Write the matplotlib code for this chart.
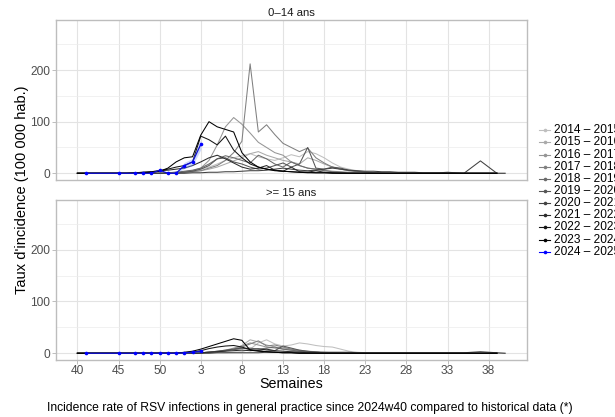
import matplotlib
matplotlib.use('Agg')
import matplotlib.pyplot as plt
from matplotlib.lines import Line2D
import numpy as np

plt.rcParams['font.family'] = ['Liberation Sans', 'DejaVu Sans']

# ---------------- data ----------------
seasons = ['2014 – 2015', '2015 – 2016', '2016 – 2017', '2017 – 2018', '2018 – 2019',
           '2019 – 2020', '2020 – 2021', '2021 – 2022', '2022 – 2023', '2023 – 2024']
current_season = '2024 – 2025'
panels = ['0–14 ans', '>= 15 ans']

# week order of a season (position on the x axis)
week_order = list(range(40, 53)) + list(range(1, 41))
tick_labels = ['40', '45', '50', '3', '8', '13', '18', '23', '28', '33', '38']

# 0-14 ans, historical seasons (one value per week, starting week 40)
kids_2014 = [0, 0, 0, 0, 0, 0, 0, 0, 0, 0,
             0, 1, 2, 3, 5, 8, 12, 18, 25, 30,
             34, 38, 32, 28, 25, 30, 36, 32, 42, 38,
             30, 20, 12, 8, 5, 3, 2, 1, 1, 0,
             0, 0, 0, 0, 0, 0, 0, 0, 0, 0, 0, 0]
kids_2015 = [0, 0, 0, 0, 0, 0, 0, 0, 0, 0,
             0, 0, 1, 2, 3, 5, 8, 12, 18, 24,
             30, 38, 42, 35, 30, 25, 22, 18, 30, 25,
             18, 12, 8, 5, 4, 3, 2, 1, 0, 0,
             0, 0, 0, 0, 0, 0, 0, 0, 0, 0, 0, 0, 0]
kids_2016 = [0, 0, 0, 0, 0, 0, 0, 0, 0, 0,
             0, 1, 2, 3, 5, 10, 25, 55, 90, 108,
             95, 78, 60, 50, 40, 35, 22, 15, 10, 8,
             6, 4, 3, 2, 1, 1, 0, 0, 0, 0,
             0, 0, 0, 0, 0, 0, 0, 0, 0, 0, 0, 0]
kids_2017 = [0, 0, 0, 0, 0, 0, 0, 0, 0, 0,
             0, 0, 1, 2, 3, 5, 10, 15, 25, 40,
             62, 212, 80, 94, 75, 58, 50, 42, 49, 30,
             20, 12, 8, 5, 3, 2, 1, 1, 0, 0,
             0, 0, 0, 0, 0, 0, 0, 0, 0, 0, 0, 0]
kids_2018 = [0, 0, 0, 0, 0, 0, 0, 0, 0, 0,
             0, 1, 2, 4, 6, 10, 18, 28, 34, 30,
             25, 20, 35, 28, 18, 12, 22, 15, 10, 8,
             5, 3, 2, 1, 1, 0, 0, 0, 0, 0,
             0, 0, 0, 0, 0, 0, 0, 0, 0, 0, 0, 0]
kids_2019 = [0, 0, 0, 0, 0, 0, 0, 0, 0, 0,
             0, 0, 1, 2, 4, 8, 15, 28, 30, 22,
             18, 12, 8, 10, 15, 20, 12, 18, 50, 10,
             8, 12, 10, 6, 4, 2, 1, 0, 0, 0,
             0, 0, 0, 0, 0, 0, 0, 0, 0, 0, 0, 0]
kids_2020 = [0, 0, 0, 0, 0, 0, 0, 0, 0, 0,
             0, 0, 0, 0, 1, 1, 2, 2, 3, 3,
             4, 5, 5, 6, 8, 10, 8, 6, 5, 6,
             8, 10, 8, 6, 5, 4, 4, 3, 3, 2,
             2, 2, 1, 1, 1, 2, 1, 0, 12, 24, 12, 0, 0]
kids_2021 = [0, 0, 0, 0, 0, 0, 0, 1, 2, 3,
             5, 6, 8, 10, 15, 22, 30, 35, 28, 20,
             12, 8, 10, 15, 6, 4, 12, 3, 2, 5,
             2, 1, 1, 0, 0, 0, 0, 0, 0, 0,
             0, 0, 0, 0, 0, 0, 0, 0, 0, 0, 0, 0]
kids_2022 = [0, 0, 0, 0, 0, 0, 0, 1, 2, 3,
             5, 8, 12, 15, 22, 72, 65, 55, 72, 45,
             30, 18, 12, 8, 6, 4, 3, 2, 2, 1,
             1, 1, 0, 0, 0, 0, 0, 0, 0, 0,
             0, 0, 0, 0, 0, 0, 0, 0, 0, 0, 0, 0]
kids_2023 = [0, 0, 0, 0, 0, 0, 0, 0, 1, 2,
             4, 10, 22, 30, 32, 74, 100, 90, 85, 80,
             40, 22, 12, 8, 5, 4, 3, 2, 1, 1,
             1, 0, 0, 0, 0, 0, 0, 0, 0, 0,
             0, 0, 0, 0, 0, 0, 0, 0, 0, 0, 0, 0]

# >= 15 ans, historical seasons
adult_2014 = [0, 0, 0, 0, 0, 0, 0, 0, 0, 0,
              0, 0, 0, 0, 0, 0, 1, 1, 1, 2,
              3, 8, 20, 26, 18, 14, 16, 20, 18, 15,
              13, 12, 8, 4, 2, 1, 0, 0, 0, 0,
              0, 0, 0, 0, 0, 0, 0, 0, 0, 0, 0, 0]
adult_2015 = [0, 0, 0, 0, 0, 0, 0, 0, 0, 0,
              0, 0, 0, 0, 0, 1, 2, 3, 5, 8,
              15, 26, 22, 16, 12, 10, 8, 6, 4, 3,
              2, 1, 1, 0, 0, 0, 0, 0, 0, 0,
              0, 0, 0, 0, 0, 0, 0, 0, 0, 0, 0, 0, 0]
adult_2016 = [0, 0, 0, 0, 0, 0, 0, 0, 0, 0,
              0, 0, 0, 0, 0, 1, 2, 4, 6, 10,
              14, 20, 16, 12, 10, 8, 6, 4, 3, 2,
              1, 1, 0, 0, 0, 0, 0, 0, 0, 0,
              0, 0, 0, 0, 0, 0, 0, 0, 0, 0, 0, 0]
adult_2017 = [0, 0, 0, 0, 0, 0, 0, 0, 0, 0,
              0, 0, 0, 0, 0, 1, 2, 3, 5, 8,
              12, 18, 24, 14, 16, 12, 8, 5, 3, 2,
              1, 1, 0, 0, 0, 0, 0, 0, 0, 0,
              0, 0, 0, 0, 0, 0, 0, 0, 0, 0, 0, 0]
adult_2018 = [0, 0, 0, 0, 0, 0, 0, 0, 0, 0,
              0, 0, 0, 0, 0, 1, 2, 3, 5, 7,
              9, 10, 8, 10, 12, 8, 6, 4, 3, 2,
              1, 1, 0, 0, 0, 0, 0, 0, 0, 0,
              0, 0, 0, 0, 0, 0, 0, 0, 0, 0, 0, 0]
adult_2019 = [0, 0, 0, 0, 0, 0, 0, 0, 0, 0,
              0, 0, 0, 0, 0, 1, 2, 4, 6, 8,
              10, 8, 9, 6, 5, 14, 10, 6, 4, 2,
              1, 1, 0, 0, 0, 0, 0, 0, 0, 0,
              0, 0, 0, 0, 0, 0, 0, 0, 0, 0, 0, 0]
adult_2020 = [0, 0, 0, 0, 0, 0, 0, 0, 0, 0,
              0, 0, 0, 0, 0, 0, 0, 1, 1, 1,
              1, 1, 1, 2, 2, 2, 2, 2, 2, 2,
              2, 2, 2, 2, 1, 1, 1, 1, 1, 1,
              1, 1, 1, 1, 1, 1, 1, 1, 2, 3, 2, 1, 0]
adult_2021 = [0, 0, 0, 0, 0, 0, 0, 0, 0, 0,
              0, 0, 0, 0, 0, 1, 2, 3, 4, 5,
              6, 5, 6, 8, 5, 4, 3, 2, 1, 1,
              0, 0, 0, 0, 0, 0, 0, 0, 0, 0,
              0, 0, 0, 0, 0, 0, 0, 0, 0, 0, 0, 0]
adult_2022 = [0, 0, 0, 0, 0, 0, 0, 0, 0, 0,
              0, 0, 0, 1, 2, 5, 9, 12, 14, 15,
              12, 7, 5, 3, 2, 1, 1, 0, 0, 0,
              0, 0, 0, 0, 0, 0, 0, 0, 0, 0,
              0, 0, 0, 0, 0, 0, 0, 0, 0, 0, 0, 0]
adult_2023 = [0, 0, 0, 0, 0, 0, 0, 0, 0, 0,
              0, 0, 0, 2, 4, 8, 13, 18, 23, 28,
              25, 6, 4, 3, 2, 1, 1, 0, 0, 0,
              0, 0, 0, 0, 0, 0, 0, 0, 0, 0,
              0, 0, 0, 0, 0, 0, 0, 0, 0, 0, 0, 0]

kids_hist = [kids_2014, kids_2015, kids_2016, kids_2017, kids_2018,
             kids_2019, kids_2020, kids_2021, kids_2022, kids_2023]
adult_hist = [adult_2014, adult_2015, adult_2016, adult_2017, adult_2018,
              adult_2019, adult_2020, adult_2021, adult_2022, adult_2023]

# current season 2024-2025
current_weeks = [41, 45, 47, 48, 49, 50, 51, 52, 1, 2, 3]
current_kids = [0, 0, 0, 0, 0, 6, 0, 0, 15, 22, 56]
current_adults = [0, 0, 0, 0, 0, 0, 0, 0, 1, 2, 4]
# confidence band for the latest weeks
band_weeks = [51, 52, 1, 2, 3]
band_kids_low = [0, 0, 9, 15, 46]
band_kids_high = [1, 3, 21, 29, 66]
band_adults_low = [0, 0, 0, 1, 2]
band_adults_high = [0, 1, 2, 3, 6]

# ---------------- styling ----------------
W, H = 615, 417
fig = plt.figure(figsize=(W / 100, H / 100), dpi=100)
grey_levels = np.linspace(0.75, 0.0, len(seasons))
colors = [str(g) for g in grey_levels]
blue = '#0000FF'

ax1 = fig.add_axes([56 / W, 1 - 180 / H, 470.5 / W, 159.5 / H])
ax2 = fig.add_axes([56 / W, 1 - 360 / H, 470.5 / W, 160 / H])

cur_x = [week_order.index(w) for w in current_weeks]
band_x = [week_order.index(w) for w in band_weeks]
tick_pos = [week_order.index(int(t)) for t in tick_labels]

for ax, hist, cur, lo, hi in [(ax1, kids_hist, current_kids, band_kids_low, band_kids_high),
                              (ax2, adult_hist, current_adults, band_adults_low, band_adults_high)]:
    for vals, c in zip(hist, colors):
        ax.plot(np.arange(len(vals)), vals, color=c, lw=0.75, zorder=3)
    ax.fill_between(band_x, lo, hi, color='#6f8fff', alpha=0.35, lw=0, zorder=4)
    ax.plot(cur_x, cur, color='#1010D0', lw=0.9, zorder=5)
    ax.plot(cur_x, cur, 'o', color=blue, ms=2.6, mew=0, zorder=6)
    ax.set_xlim(-2.6, 54.6)
    ax.set_ylim(-13, 296)
    ax.set_yticks([0, 100, 200])
    ax.set_yticks([50, 150, 250], minor=True)
    ax.set_xticks(tick_pos)
    ax.grid(True, which='major', color='#E3E3E3', lw=0.8, zorder=0)
    ax.grid(True, which='minor', axis='y', color='#ECECEC', lw=0.5, zorder=0)
    ax.set_axisbelow(True)
    for s in ax.spines.values():
        s.set_color('#BDBDBD')
        s.set_linewidth(1.0)
    ax.tick_params(axis='y', which='major', length=2.8, width=0.6, color='#B3B3B3',
                   labelsize=8.6, labelcolor='#4D4D4D', pad=1.5)
    ax.tick_params(which='minor', length=0)

ax1.tick_params(axis='x', length=0, labelbottom=False)
ax2.set_xticklabels(tick_labels)
ax2.tick_params(axis='x', length=2.8, width=0.6, color='#B3B3B3',
                labelsize=8.6, labelcolor='#4D4D4D', pad=0.8)

# strip titles
fig.text(291 / W, 1 - 12.5 / H, panels[0], ha='center', va='center', fontsize=8.2, color='#1A1A1A')
fig.text(291 / W, 1 - 193.5 / H, panels[1], ha='center', va='center', fontsize=8.2, color='#1A1A1A')

# axis titles and caption
fig.text(22 / W, 1 - 190 / H, "Taux d'incidence (100 000 hab.)", rotation=90,
         ha='center', va='center', fontsize=10.5)
fig.text(291 / W, 1 - 383.5 / H, 'Semaines', ha='center', va='center', fontsize=10.3)
fig.text(310 / W, 1 - 407.5 / H,
         'Incidence rate of RSV infections in general practice since 2024w40 compared to historical data (*)',
         ha='center', va='center', fontsize=8.7)

# legend
leg_labels = seasons + [current_season]
leg_colors = colors + [blue]
for i, (lab, c) in enumerate(zip(leg_labels, leg_colors)):
    y = 1 - (130.3 + i * 12.14) / H
    fig.add_artist(Line2D([539 / W, 550 / W], [y, y], color=c, lw=0.8,
                          transform=fig.transFigure))
    fig.add_artist(Line2D([544.5 / W], [y], marker='o', ms=2.6, mew=0, color=c,
                          transform=fig.transFigure))
    fig.text(554 / W, y, lab, ha='left', va='center', fontsize=8.6)

fig.savefig('out.png', dpi=100)
